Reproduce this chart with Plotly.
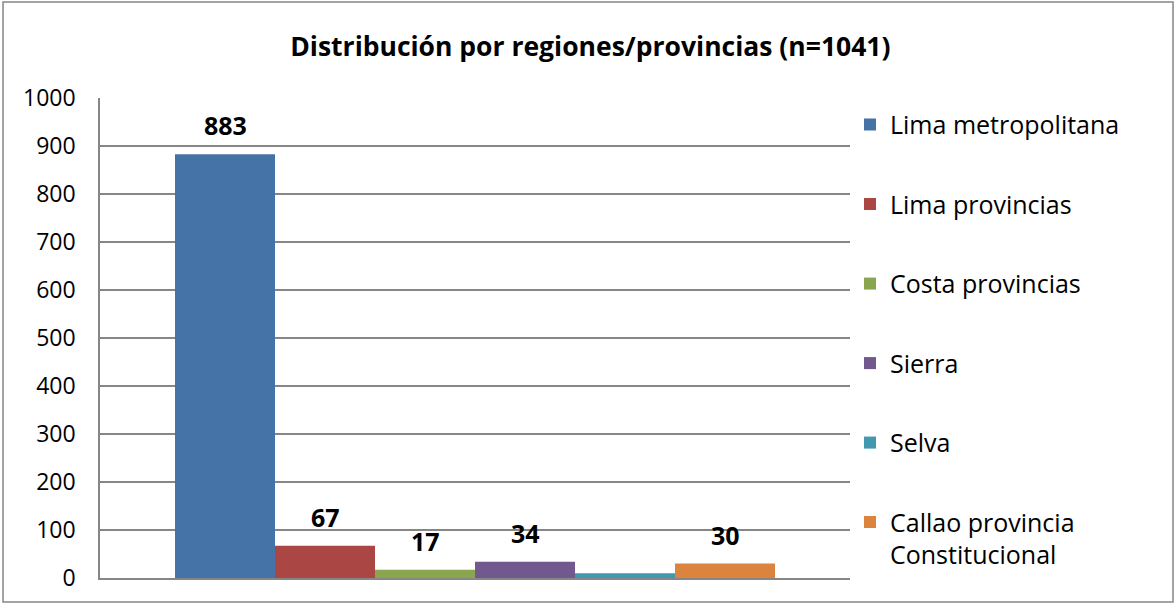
import plotly.graph_objects as go

categories = [""]
series_names = ["Lima metropolitana", "Lima provincias", "Costa provincias",
                "Sierra", "Selva", "Callao provincia<br>Constitucional"]
series_values = [883, 67, 17, 34, 10, 30]
show_label = [True, True, True, True, False, True]
colors = ["#4572A7", "#AA4643", "#89A54E", "#71588F", "#4198AF", "#DB843D"]
y_ticks = list(range(0, 1001, 100))

FONT = "Open Sans"
BARGAP = 0.2
n = len(series_values)

fig = go.Figure()
for i, (name, val, col) in enumerate(zip(series_names, series_values, colors)):
    fig.add_trace(go.Bar(
        x=categories, y=[val], name=name, marker_color=col,
        marker_line_width=0, legendgroup=f"g{i}",
    ))

# data labels placed via the axis scales
annotations = []
group_w = 1 - BARGAP
for i, val in enumerate(series_values):
    if not show_label[i]:
        continue
    xpos = -group_w / 2 + (i + 0.5) * group_w / n
    annotations.append(dict(
        x=xpos, y=val, xref="x", yref="y", text=f"<b>{val}</b>",
        showarrow=False, yanchor="bottom", yshift=10,
        font=dict(family=FONT, size=25, color="black"),
    ))

fig.update_layout(
    width=1176, height=604,
    margin=dict(l=100, r=326, t=98, b=26),
    paper_bgcolor="white", plot_bgcolor="white",
    barmode="group", bargap=BARGAP, bargroupgap=0,
    title=dict(text="<b>Distribución por regiones/provincias (n=1041)</b>",
               x=0.502, xanchor="center", y=0.922, yanchor="middle",
               font=dict(family=FONT, size=26.5, color="black")),
    legend=dict(x=1.0, xanchor="left", y=0.992, yanchor="top",
                font=dict(family=FONT, size=25, color="black"),
                tracegroupgap=44, valign="top", bgcolor="rgba(0,0,0,0)"),
    annotations=annotations,
    shapes=[dict(type="rect", xref="paper", yref="paper",
                 x0=-0.1293, x1=1.4307, y0=-0.05, y1=1.2,
                 line=dict(color="#868686", width=1.5))],
)
fig.update_yaxes(range=[0, 1000], tickvals=y_ticks, showgrid=True,
                 gridcolor="#868686", gridwidth=1.5, showline=True,
                 linecolor="#868686", linewidth=1.5, zeroline=False,
                 ticks="", ticklabelstandoff=18,
                 tickfont=dict(family=FONT, size=23, color="black"))
fig.update_xaxes(showticklabels=False, showline=True, linecolor="#868686",
                 linewidth=1.5, ticks="")
fig.write_html("out.html", config={"displayModeBar": False},
               post_script="document.body.style.margin='0';")
